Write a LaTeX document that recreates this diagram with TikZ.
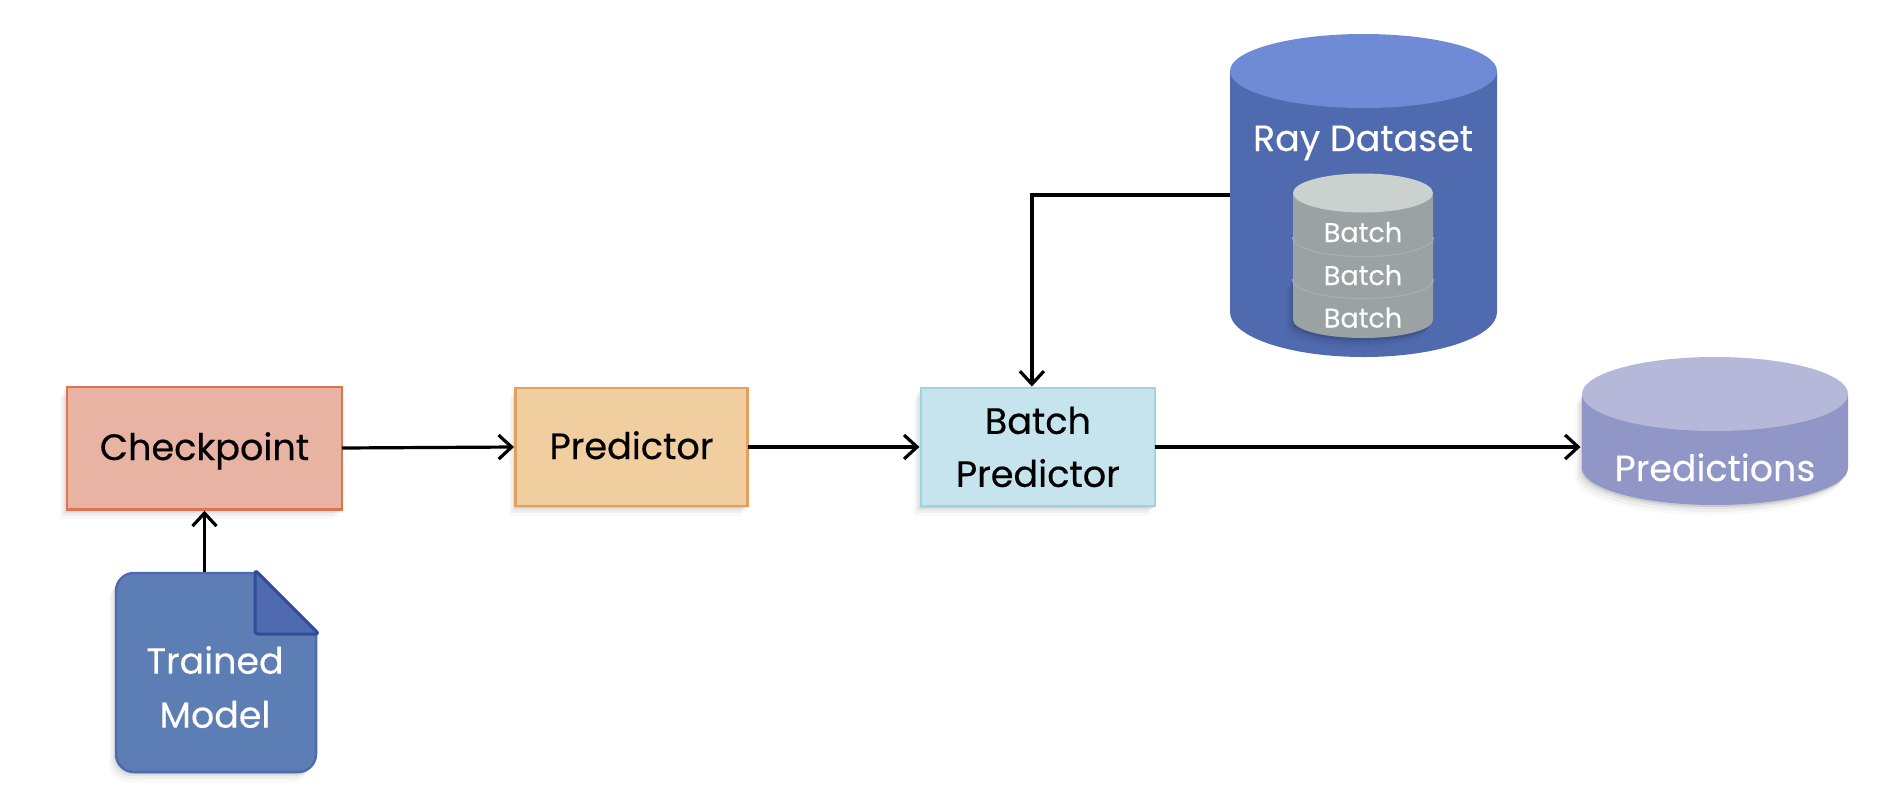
\documentclass[tikz,border=0pt]{standalone}
\usepackage{fontspec}
\setmainfont{Poppins}[FakeBold=0.25]
\newfontfamily\boxfont{Poppins}[FakeBold=0.45]
\usetikzlibrary{positioning,shadows,arrows.meta}

\definecolor{checkfill}{HTML}{E9B3A4}
\definecolor{checkline}{HTML}{E2714F}
\definecolor{predfill}{HTML}{F1CEA0}
\definecolor{predline}{HTML}{E59F5C}
\definecolor{batchfill}{HTML}{C6E4ED}
\definecolor{batchline}{HTML}{A0D2E1}
\definecolor{docfill}{HTML}{5D7DB5}
\definecolor{docline}{HTML}{4E6BB0}
\definecolor{foldline}{HTML}{2F4B9B}
\definecolor{raybody}{HTML}{4F6AAF}
\definecolor{raytop}{HTML}{6F8BD5}
\definecolor{stackbody}{HTML}{9AA2A3}
\definecolor{stacktop}{HTML}{CBD1CF}
\definecolor{stackline}{HTML}{ABAEAB}
\definecolor{outbody}{HTML}{9096C6}
\definecolor{outtop}{HTML}{B5B8D8}

% cx, top y, bottom y, x radius, top y radius, bottom y radius, body options, top colour
\newcommand{\drum}[8]{
    \fill[#7] (#1-#4,#2) -- (#1-#4,#3) arc[start angle=180, end angle=0, x radius=#4, y radius=#6] -- (#1+#4,#2) -- cycle;
    \fill[#8] (#1,#2) ellipse[x radius=#4, y radius=#5];
}

\tikzset{
    softshadow/.style={
        drop shadow={shadow xshift=-1pt, shadow yshift=-2pt, opacity=.09, fill=black},
        drop shadow={shadow xshift=-3pt, shadow yshift=-4pt, opacity=.06, fill=black},
        drop shadow={shadow xshift=-5pt, shadow yshift=-7pt, opacity=.04, fill=black},
        drop shadow={shadow xshift=-7pt, shadow yshift=-10pt, opacity=.025, fill=black}},
    box/.style={rectangle, draw, line width=2.5pt, inner sep=0pt, outer sep=0pt,
        align=center, text=black, font=\boxfont\fontsize{36.6}{53}\selectfont, softshadow},
    oneline/.style={text height=24pt, text depth=0pt},
    zone/.style={rectangle, inner sep=0pt, outer sep=0pt},
    whitetext/.style={text=white, align=center, inner sep=0pt, font=\fontsize{36.4}{54}\selectfont},
    batchtext/.style={text=white, inner sep=0pt, anchor=base, font=\fontsize{27}{30}\selectfont},
    flow/.style={-{Straight Barb[length=13pt,width=24pt]}, line width=3.2pt, black, shorten >=1.5pt}
}

\begin{document}
\begin{tikzpicture}[x=1pt, y=-1pt]
    \useasboundingbox (0,0) rectangle (1888,806);

    % Define boxes
    \node[box, oneline, fill=checkfill, draw=checkline, minimum width=275pt, minimum height=122.5pt] (checkpoint) at (204.5,448) {Checkpoint};
    \node[box, oneline, fill=predfill, draw=predline, minimum width=232pt, minimum height=118pt, right = 173.5pt of checkpoint, yshift=1pt] (predictor) {Predictor};
    \node[box, fill=batchfill, draw=batchline, minimum width=234pt, minimum height=118pt, right = 173.4pt of predictor] (batch) {Batch\\Predictor};

    % Trained model page
    \draw[fill=docfill, draw=docline, line width=2.5pt, softshadow]
        (116,650) [rounded corners=18pt] -- (116,573) [sharp corners] -- (258,573) -- (316,634)
        [rounded corners=18pt] -- (316,772) -- (116,772) -- cycle;
    \draw[fill=raybody, draw=foldline, line width=3pt, line join=round, rounded corners=3pt]
        (255,570) -- (319,634) -- (255,634) -- cycle;
    \node[zone, minimum width=202pt, minimum height=201pt] (model) at (216,672.5) {};
    \node[whitetext] (modelname) at (215,687) {Trained\\Model};

    % Ray dataset and its stack of batches
    \drum{1363.5}{71}{312}{133.5}{37}{45}{raybody}{raytop}
    \node[zone, minimum width=267pt, minimum height=323pt] (dataset) at (1363.5,195) {};
    \node[whitetext, anchor=base] (datasetname) at (1363,151) {Ray Dataset};
    \drum{1363}{279}{320}{70}{19}{18}{stackbody, softshadow}{stackbody}
    \draw[stackline, line width=2.5pt] (1293,279) arc[start angle=180, end angle=0, x radius=70, y radius=19];
    \drum{1363}{237}{279}{70}{19}{19}{stackbody}{stackbody}
    \draw[stackline, line width=2.5pt] (1293,237) arc[start angle=180, end angle=0, x radius=70, y radius=19];
    \drum{1363}{193}{237}{70}{19.5}{19}{stackbody}{stacktop}
    \node[batchtext] (batcha) at (1363,242) {Batch};
    \node[batchtext] (batchb) at (1363,285) {Batch};
    \node[batchtext] (batchc) at (1363,327.5) {Batch};

    % Predictions
    \drum{1715}{394}{468}{133}{37}{37}{outbody, softshadow}{outtop}
    \node[zone, minimum width=266pt, minimum height=148pt] (output) at (1715,431) {};
    \node[whitetext, anchor=base] (outputname) at (1715,481) {Predictions};

    % Connect nodes
    \draw[flow] (checkpoint.south |- model.north) -- (checkpoint.south);
    \draw[flow] (checkpoint.east) -- (predictor.west);
    \draw[flow] (predictor.east) -- (batch.west);
    \draw[flow] (batch.east) -- (batch.east -| output.west);
    \draw[flow] (dataset.west) -| ([xshift=-6pt]batch.north);
\end{tikzpicture}
\end{document}
